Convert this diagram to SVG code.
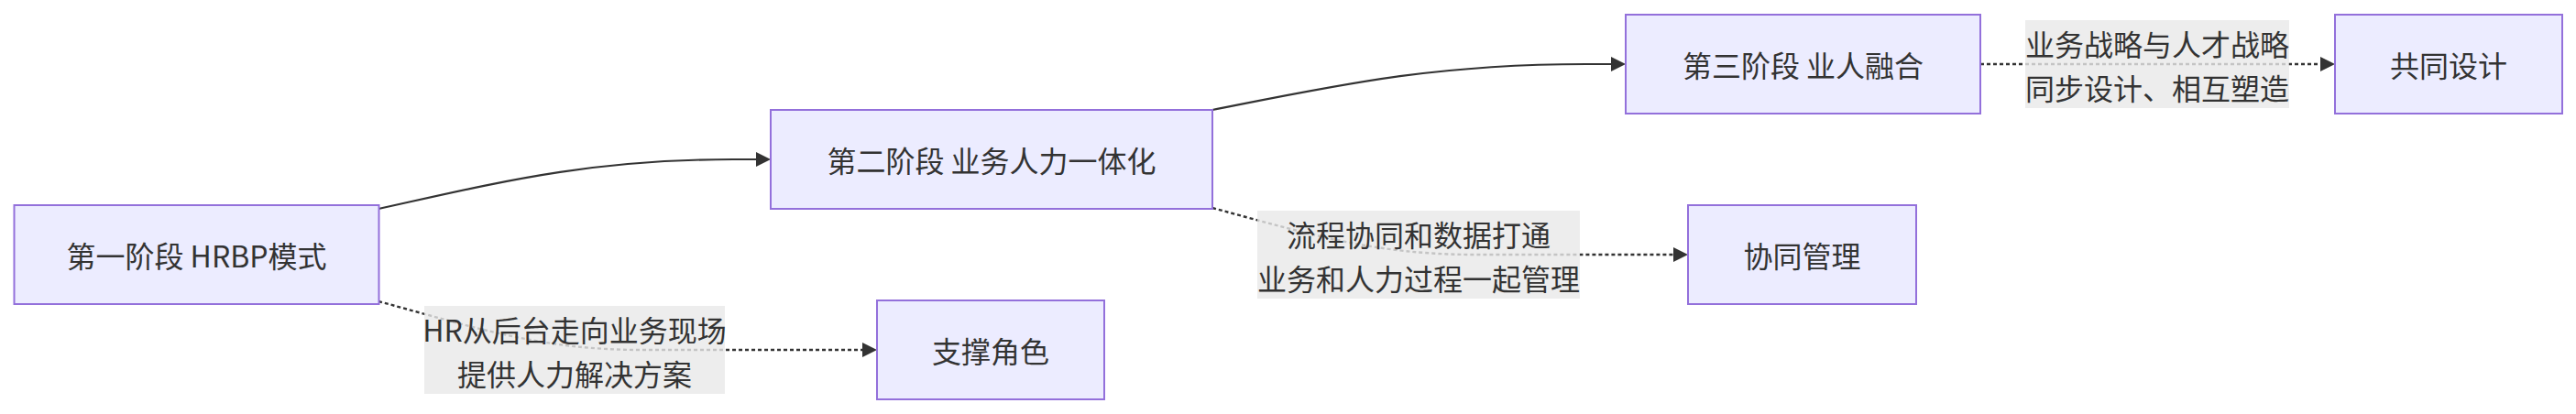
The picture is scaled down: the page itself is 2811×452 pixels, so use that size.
<svg xmlns="http://www.w3.org/2000/svg" width="2811" height="452" viewBox="0 0 2811 452">
<style>
.node rect{fill:#ECECFF;stroke:#9370DB;stroke-width:2}
text{font-family:"Noto Sans CJK SC","Noto Sans",sans-serif;font-size:32px;fill:#333;text-anchor:middle;dominant-baseline:central}
.edge{fill:none;stroke:#333;stroke-width:2.2}
.dotted{stroke-width:2.4;stroke-dasharray:4 3}
.lbl rect{fill:#e8e8e8;opacity:0.8}
</style>
<defs>
<marker id="arrow" viewBox="0 0 10 10" refX="5" refY="5" markerUnits="userSpaceOnUse" markerWidth="16" markerHeight="16" orient="auto">
<path d="M0,0 L10,5 L0,10 z" fill="#333"/>
</marker>
</defs>
<rect width="2811" height="452" fill="#fff"/>
<g id="connectors">
<path class="edge" d="M413,228 C540,200 640,174 800,174 L833,174" marker-end="url(#arrow)"/>
<path class="edge" d="M1323,120 C1457,93.5 1562,70 1731,70 L1766,70" marker-end="url(#arrow)"/>
<path class="edge dotted" d="M413,329 C520,358 590,382 700,382 L949,382" marker-end="url(#arrow)"/>
<path class="edge dotted" d="M1323,227 C1430,256 1500,278 1610,278 L1834,278" marker-end="url(#arrow)"/>
<path class="edge dotted" d="M2161,70 L2540,70" marker-end="url(#arrow)"/>
</g>
<g id="label-hr" class="lbl">
<rect x="463" y="334" width="328" height="96"/>
<text x="627" y="359">HR从后台走向业务现场</text>
<text x="627" y="407">提供人力解决方案</text>
</g>
<g id="label-flow" class="lbl">
<rect x="1372" y="230" width="352" height="96"/>
<text x="1548" y="255">流程协同和数据打通</text>
<text x="1548" y="303">业务和人力过程一起管理</text>
</g>
<g id="label-strategy" class="lbl">
<rect x="2210" y="22" width="288" height="96"/>
<text x="2354" y="47">业务战略与人才战略</text>
<text x="2354" y="95">同步设计、相互塑造</text>
</g>
<g id="stage1" class="node">
<rect x="15.5" y="224" width="398" height="108"/>
<text x="214.5" y="278">第一阶段 HRBP模式</text>
</g>
<g id="stage2" class="node">
<rect x="841" y="120" width="482" height="108"/>
<text x="1082" y="174">第二阶段 业务人力一体化</text>
</g>
<g id="stage3" class="node">
<rect x="1774" y="16" width="387" height="108"/>
<text x="1967.5" y="70">第三阶段 业人融合</text>
</g>
<g id="support" class="node">
<rect x="957" y="328" width="248" height="108"/>
<text x="1081" y="382">支撑角色</text>
</g>
<g id="collab" class="node">
<rect x="1842" y="224" width="249" height="108"/>
<text x="1966.5" y="278">协同管理</text>
</g>
<g id="codesign" class="node">
<rect x="2548" y="16" width="248" height="108"/>
<text x="2672" y="70">共同设计</text>
</g>
</svg>
